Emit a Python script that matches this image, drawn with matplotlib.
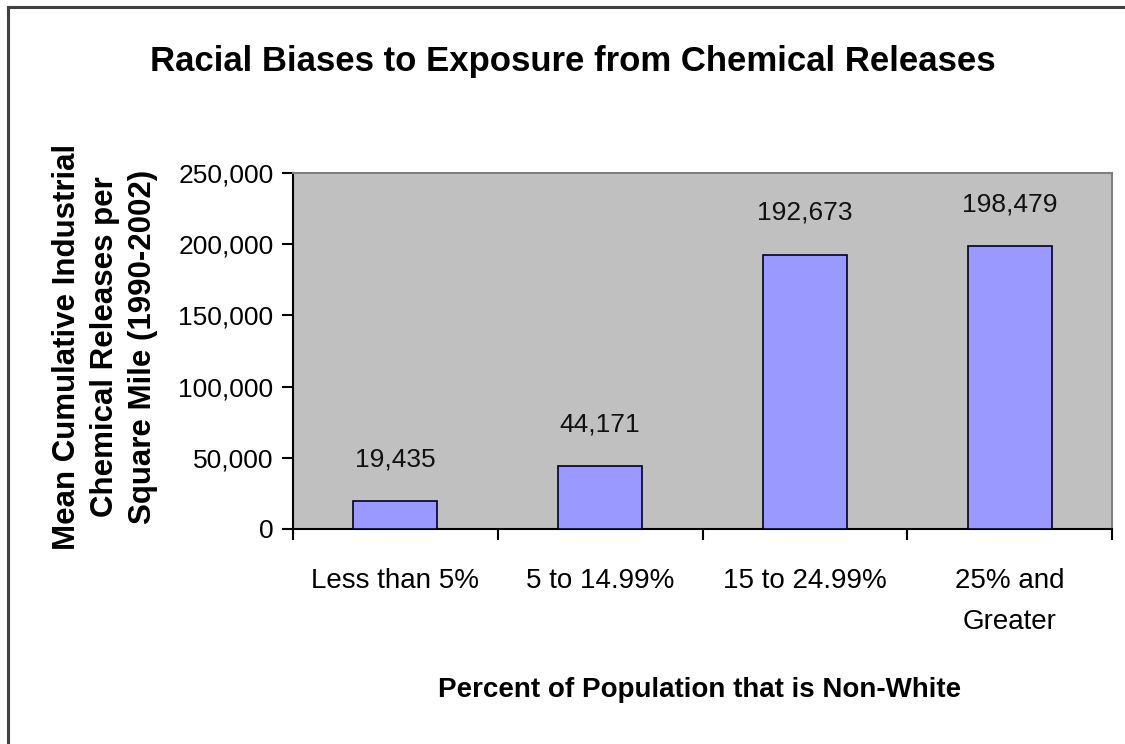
import matplotlib
matplotlib.use("Agg")
import matplotlib.pyplot as plt
from matplotlib.lines import Line2D

categories = ["Less than 5%", "5 to 14.99%", "15 to 24.99%", "25% and\nGreater"]
values = [19435, 44171, 192673, 198479]
yticks = [0, 50000, 100000, 150000, 200000, 250000]

plt.rcParams['font.family'] = ['Liberation Sans', 'DejaVu Sans']

W, H = 1125, 744
fig = plt.figure(figsize=(W/100, H/100), dpi=100)
fig.patch.set_facecolor('white')

# outer border (left and top visible)
fig.add_artist(Line2D([8/W, 8/W], [0, 1 - 7/H], transform=fig.transFigure, color='#404040', lw=2.2))
fig.add_artist(Line2D([8/W, 1], [1 - 7/H, 1 - 7/H], transform=fig.transFigure, color='#404040', lw=2.2))

left, right, top, bottom = 293, 1112, 173, 529
ax = fig.add_axes([left/W, 1 - bottom/H, (right-left)/W, (bottom-top)/H])
ax.set_facecolor('#C0C0C0')

x = list(range(len(categories)))
ax.bar(x, values, width=0.41, color='#9999FF', edgecolor='#000020', linewidth=1.2, zorder=3)
ax.set_xlim(-0.5, len(categories) - 0.5)
ax.set_ylim(0, 250000)

for xi, v in zip(x, values):
    ax.annotate(f"{v:,}", (xi, v), xytext=(0, 30), textcoords='offset points',
                ha='center', va='center', fontsize=19, color='#111111')

ax.set_yticks(yticks)
ax.set_yticklabels([f"{t:,}" for t in yticks], fontsize=19)
ax.set_xticks([i + 0.5 for i in range(-1, len(categories))], minor=False)
ax.set_xticklabels([])
ax.set_xticks(x, minor=True)
ax.set_xticklabels(categories, minor=True, fontsize=20, linespacing=1.75, va='top')
ax.tick_params(axis='x', which='minor', length=0, pad=28)
ax.tick_params(axis='x', which='major', length=8, width=1.5, direction='out', color='black')
ax.tick_params(axis='y', length=8, width=1.5, direction='out', pad=6)

for s in ['left', 'bottom']:
    ax.spines[s].set_color('black')
    ax.spines[s].set_linewidth(1.5)
for s in ['top', 'right']:
    ax.spines[s].set_color('#808080')
    ax.spines[s].set_linewidth(1.5)

fig.text(573/W, 1 - 62/H, "Racial Biases to Exposure from Chemical Releases",
         ha='center', va='center', fontsize=25, fontweight='bold')
fig.text(700/W, 1 - 690/H, "Percent of Population that is Non-White",
         ha='center', va='center', fontsize=20, fontweight='bold')
fig.text(105/W, 1 - 347/H, "Mean Cumulative Industrial\nChemical Releases per\nSquare Mile (1990-2002)",
         ha='center', va='center', rotation=90, fontsize=22.5, fontweight='bold', linespacing=1.35)

fig.savefig("out.png", dpi=100)
